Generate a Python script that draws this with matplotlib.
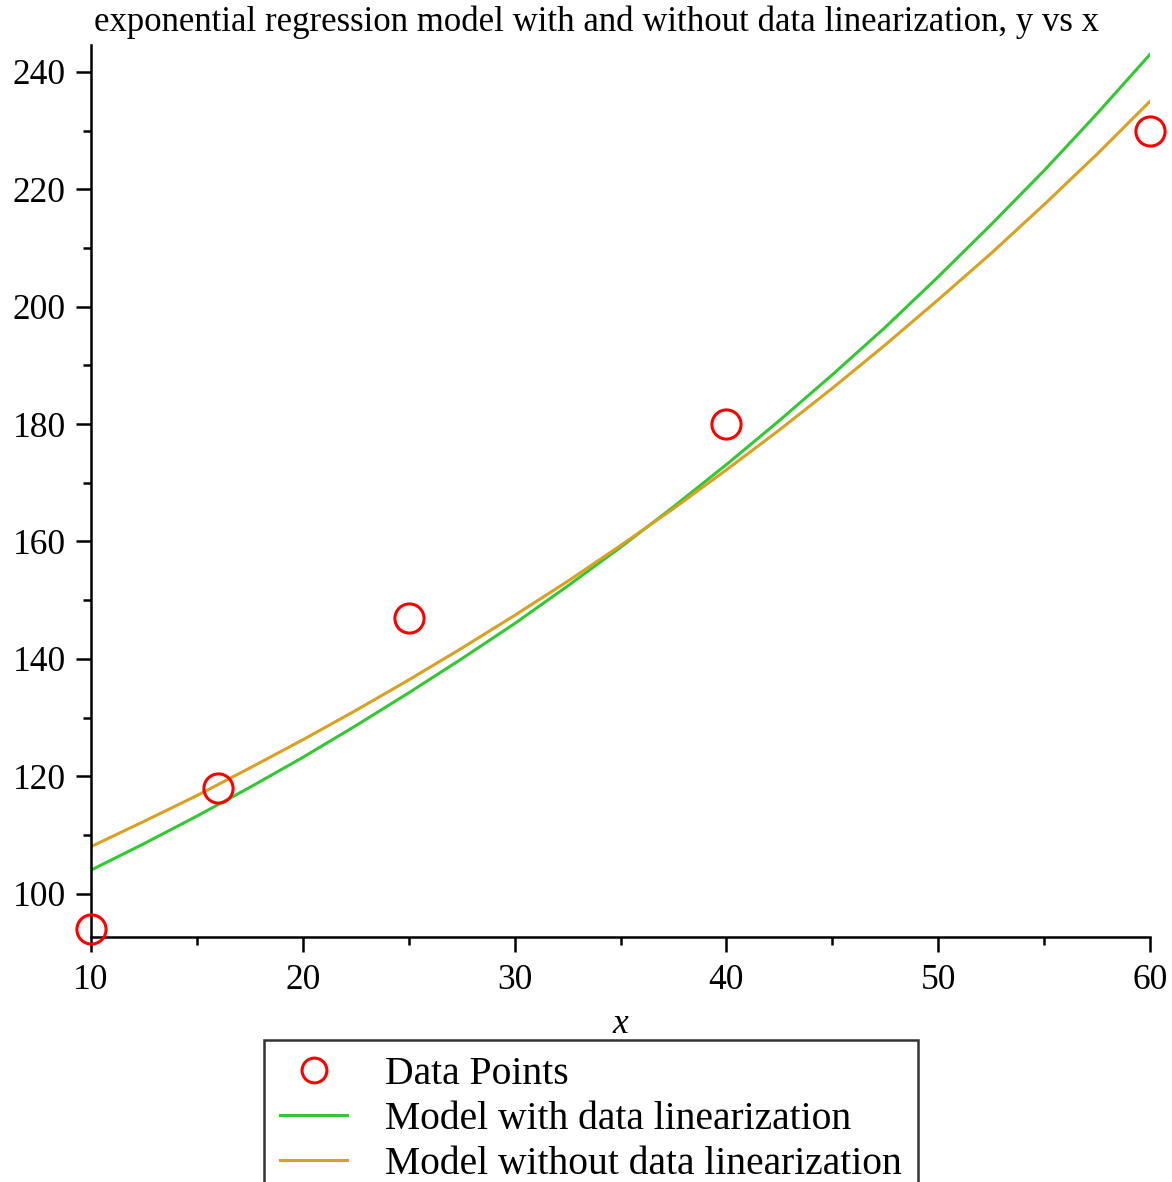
import matplotlib.pyplot as plt
from matplotlib.ticker import MultipleLocator

# data points
x_data = [10, 16, 25, 40, 60]
y_data = [94, 118, 147, 180, 230]

# model curves, every 2.5 units of x
x_model = [10, 12.5, 15, 17.5, 20, 22.5, 25, 27.5, 30, 32.5, 35,
           37.5, 40, 42.5, 45, 47.5, 50, 52.5, 55, 57.5, 60]
y_lin = [104.0, 108.5, 113.2, 118.1, 123.2, 128.6, 134.2, 140.0, 146.0, 152.4, 159.0,
         165.9, 173.1, 180.6, 188.4, 196.5, 205.1, 214.0, 223.2, 232.9, 243.0]
y_nonlin = [108.0, 112.3, 116.7, 121.4, 126.2, 131.2, 136.4, 141.8, 147.4, 153.2, 159.3,
            165.6, 172.2, 179.0, 186.1, 193.5, 201.2, 209.1, 217.4, 226.0, 235.0]

title = "exponential regression model with and without data linearization, y vs x"
labels = ["Data Points", "Model with data linearization", "Model without data linearization"]

plt.rcParams['font.family'] = ['Liberation Serif', 'DejaVu Serif']

fig = plt.figure(figsize=(11.72, 11.82), dpi=100)
ax = fig.add_axes([91 / 1172, 1 - 937 / 1182, (1150 - 91) / 1172, (937 - 45) / 1182])

pts, = ax.plot(x_data, y_data, 'o', ms=21, mfc='none', mec='#FF0000', mew=2.2,
               clip_on=False, zorder=5)
l1, = ax.plot(x_model, y_lin, color='#33C733', lw=2.2)
l2, = ax.plot(x_model, y_nonlin, color='#D9A021', lw=2.2)

ax.set_xlim(10, 60)
ax.set_ylim(92.6, 244.6)

for s in ['top', 'right']:
    ax.spines[s].set_visible(False)
for s in ['left', 'bottom']:
    ax.spines[s].set_linewidth(1.8)

ax.xaxis.set_major_locator(MultipleLocator(10))
ax.xaxis.set_minor_locator(MultipleLocator(5))
ax.yaxis.set_major_locator(MultipleLocator(20))
ax.yaxis.set_minor_locator(MultipleLocator(10))
ax.tick_params(which='major', length=11, width=1.8, labelsize=25.5, direction='out')
ax.tick_params(axis='x', which='major', pad=8.5)
ax.tick_params(axis='y', which='major', pad=7)
ax.tick_params(which='minor', length=5.5, width=1.8, direction='out')

fig.text(597 / 1172, 1 - 22 / 1182, title, fontsize=25, ha='center', va='center')
ax.set_xlabel('x', fontsize=25.5, style='italic', labelpad=8)

leg = fig.legend([pts, l1, l2], labels, loc='upper center',
                 bbox_to_anchor=(591 / 1172, 1 - 1040 / 1182),
                 fontsize=28.5, frameon=True, fancybox=False, edgecolor='black',
                 handlelength=1.7, handletextpad=0.95, borderpad=0.4,
                 labelspacing=0.2, markerscale=0.85, borderaxespad=0)
leg.get_frame().set_linewidth(1.8)

fig.savefig('out.png', dpi=100)
